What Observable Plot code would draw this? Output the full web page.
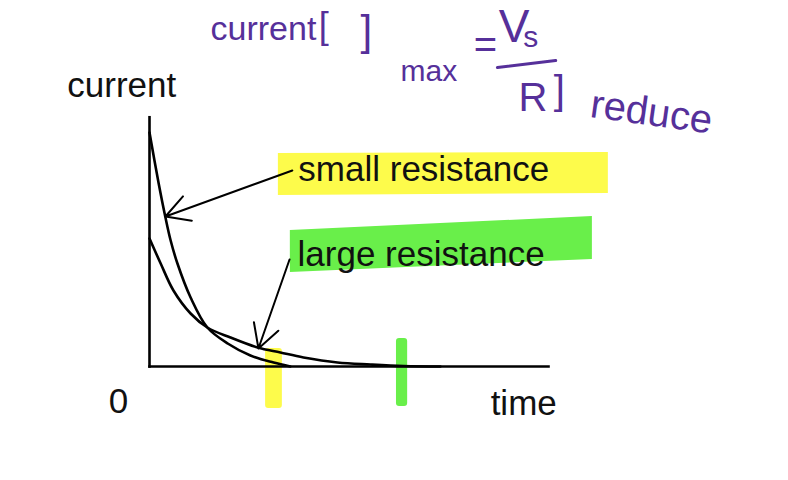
<!DOCTYPE html>
<html><head><meta charset="utf-8">
<script src="https://cdn.jsdelivr.net/npm/d3@7"></script>
<script src="https://cdn.jsdelivr.net/npm/@observablehq/plot@0.6"></script>
<style>body{margin:0;background:#fff}</style>
</head><body><div id="chart"></div>
<script>
// Curve values (arbitrary units)
const smallTime    = [0, 0.23, 0.40, 0.53, 0.70, 1.03, 1.45, 1.96, 2.53, 3.11, 3.53];
const smallCurrent = [9.36, 7.32, 5.96, 5.04, 4.12, 2.76, 1.56, 0.92, 0.44, 0.16, 0];
const largeTime    = [0, 0.28, 0.60, 1.03, 1.45, 2.03, 2.71, 3.28, 3.86, 4.71, 5.54, 6.37, 7.29];
const largeCurrent = [5.12, 4.12, 3.04, 2.12, 1.56, 1.16, 0.76, 0.56, 0.36, 0.16, 0.08, 0.02, 0];

// Axis labels
const axisLabels = ["current", "0", "time"];
const axisLabelX = [-2.06, -0.78, 8.55];
const axisLabelY = [11.21, -1.43, -1.51];
const axisLabelAnchor = ["start", "middle", "start"];

// Annotation labels
const noteLabels = ["small resistance", "large resistance"];
const noteX = [3.73, 3.71];
const noteY = [7.85, 4.45];
const noteColors = ["#fdfb4b", "#69ef4a"];

// Highlighter bands behind labels
const bandX  = [[3.23, 11.50], [3.53, 11.10]];
const bandLo = [[6.84, 6.92], [3.76, 4.28]];
const bandHi = [[8.52, 8.56], [5.44, 6.00]];

// Arrows from label to curve
const arrowFromX = [3.58, 3.51];
const arrowFromY = [7.84, 4.28];
const arrowToX   = [0.40, 2.73];
const arrowToY   = [6.00, 0.72];

// Highlighter marks on the time axis
const tickMarkX1 = [2.91, 6.19];
const tickMarkX2 = [3.33, 6.47];
const tickMarkY1 = [-1.68, -1.60];
const tickMarkY2 = [0.72, 1.12];

// Handwritten purple notes
const handText   = ["current", "[", "]", "max", "=", "V", "s", "R", "]", "reduce"];
const handX      = [1.53, 4.24, 5.29, 6.29, 8.42, 8.75, 9.37, 9.25, 10.13, 12.58];
const handY      = [13.48, 13.60, 13.41, 11.82, 12.86, 13.55, 13.18, 10.75, 11.00, 10.16];
const handSize   = [34, 36, 42, 30, 40, 46, 30, 40, 40, 40];
const handAnchor = ["start","start","start","start","middle","start","start","start","start","middle"];
const handRotate = [0, 0, 0, 0, 0, 0, 0, 0, 0, 8];
const fracLineX = [8.72, 10.18];
const fracLineY = [11.96, 12.24];

const small = smallTime.map((t, i) => ({t, c: smallCurrent[i]}));
const large = largeTime.map((t, i) => ({t, c: largeCurrent[i]}));
const axes = [{x1: 0, y1: 0, x2: 0, y2: 9.97}, {x1: 0, y1: 0, x2: 10, y2: 0}];
const bands = bandX.flatMap((xs, k) => xs.map((x, j) => ({k, x, lo: bandLo[k][j], hi: bandHi[k][j]})));
const arrows = arrowFromX.map((x, i) => ({x1: x, y1: arrowFromY[i], x2: arrowToX[i], y2: arrowToY[i]}));
const tickMarks = tickMarkX1.map((x, i) => ({x1: x, x2: tickMarkX2[i], y1: tickMarkY1[i], y2: tickMarkY2[i], color: noteColors[i]}));
const labels = axisLabels.map((s, i) => ({s, x: axisLabelX[i], y: axisLabelY[i], a: axisLabelAnchor[i]}));
const notes = noteLabels.map((s, i) => ({s, x: noteX[i], y: noteY[i]}));
const hand = handText.map((s, i) => ({s, x: handX[i], y: handY[i], size: handSize[i], a: handAnchor[i], r: handRotate[i]}));
const frac = fracLineX.map((x, i) => ({x, y: fracLineY[i]}));

const font = "'Liberation Sans', Arial, Helvetica, sans-serif";
const purple = "#56309a";

const chart = Plot.plot({
  width: 788,
  height: 480,
  margin: 0,
  style: {background: "#fff"},
  x: {domain: [0, 10], range: [149, 548], axis: null},
  y: {domain: [0, 10], range: [366, 116], axis: null},
  marks: [
    Plot.areaY(bands.filter(d => d.k === 0), {x: "x", y1: "lo", y2: "hi", fill: noteColors[0], curve: "linear"}),
    Plot.areaY(bands.filter(d => d.k === 1), {x: "x", y1: "lo", y2: "hi", fill: noteColors[1], curve: "linear"}),
    Plot.rect(tickMarks, {x1: "x1", x2: "x2", y1: "y1", y2: "y2", fill: "color", rx: 3}),
    Plot.link(axes, {x1: "x1", y1: "y1", x2: "x2", y2: "y2", stroke: "black", strokeWidth: 2.6, strokeLinecap: "square"}),
    Plot.line(small, {x: "t", y: "c", curve: "catmull-rom", stroke: "black", strokeWidth: 2.6}),
    Plot.line(large, {x: "t", y: "c", curve: "catmull-rom", stroke: "black", strokeWidth: 2.6}),
    Plot.arrow(arrows, {x1: "x1", y1: "y1", x2: "x2", y2: "y2", stroke: "black", strokeWidth: 2, headLength: 20, headAngle: 58}),
    Plot.text(labels.filter(d => d.a === "start"), {x: "x", y: "y", text: "s", textAnchor: "start", fontSize: 35, fontFamily: font, fill: "#111"}),
    Plot.text(labels.filter(d => d.a === "middle"), {x: "x", y: "y", text: "s", textAnchor: "middle", fontSize: 35, fontFamily: font, fill: "#111"}),
    Plot.text(notes, {x: "x", y: "y", text: "s", textAnchor: "start", fontSize: 35, fontFamily: font, fill: "#111"}),
    Plot.text(hand.filter(d => d.a === "start"), {x: "x", y: "y", text: "s", textAnchor: "start", fontSize: "size", rotate: "r", fontFamily: font, fill: purple}),
    Plot.text(hand.filter(d => d.a === "middle"), {x: "x", y: "y", text: "s", textAnchor: "middle", fontSize: "size", rotate: "r", fontFamily: font, fill: purple}),
    Plot.line(frac, {x: "x", y: "y", stroke: purple, strokeWidth: 3})
  ]
});
document.getElementById("chart").append(chart);
</script>
</body></html>
